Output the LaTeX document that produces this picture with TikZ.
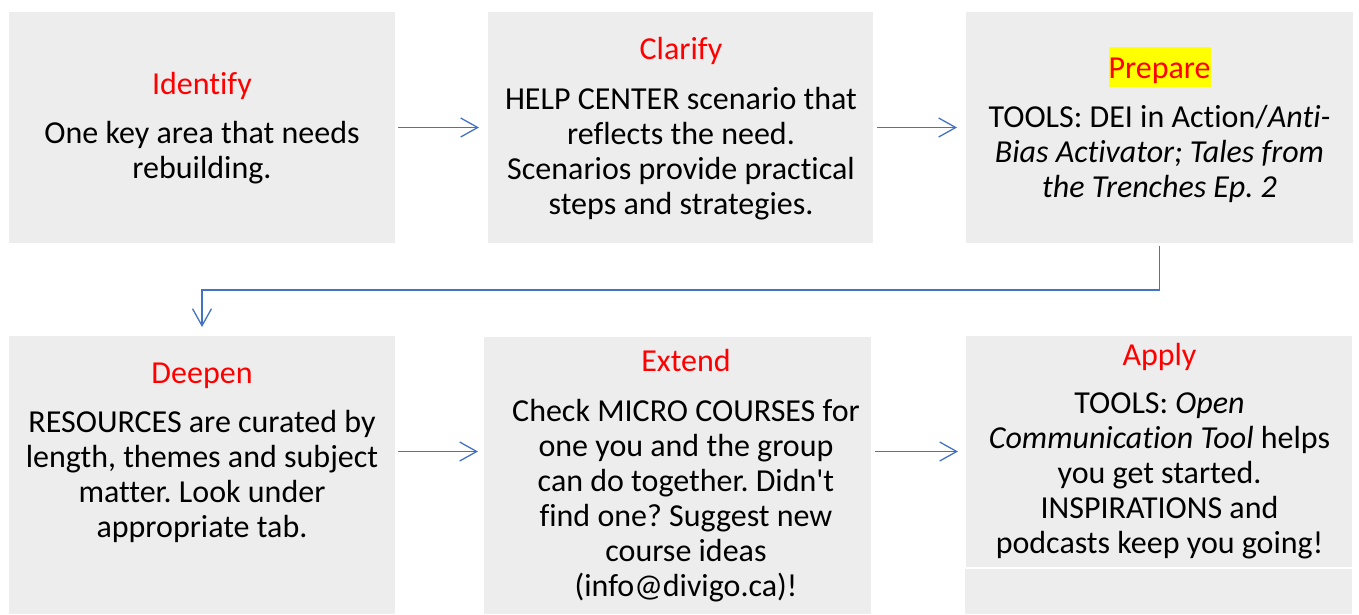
\documentclass[tikz,border=0pt]{standalone}
\usepackage{fontspec}
\setmainfont{Carlito}[Ligatures={NoCommon}]
\frenchspacing
\usetikzlibrary{arrows.meta}
\definecolor{boxgray}{HTML}{EDEDED}
\definecolor{arrblue}{HTML}{4472C4}
\definecolor{titlered}{HTML}{FF0000}
\definecolor{hlyellow}{HTML}{FFFF00}
\begin{document}
\begin{tikzpicture}[x=1pt,y=-1pt,
  box/.style={fill=boxgray, draw=none, inner sep=0pt, outer sep=0pt},
  ttl/.style={text=titlered, font=\fontsize{32}{35}\selectfont, inner sep=0pt, anchor=base},
  bodytxt/.style={font=\fontsize{32}{35}\selectfont, align=center, inner sep=0pt, anchor=base},
  arr/.style={draw=arrblue, line width=1.3pt,
    -{Straight Barb[length=17pt,width=19pt,line width=1.3pt]}}
]
\useasboundingbox (0,0) rectangle (1359,614);
% boxes
\node[box, minimum width=386pt, minimum height=231pt] (b1) at (202,127.5) {};
\node[box, minimum width=385pt, minimum height=231pt] (b2) at (680.5,127.5) {};
\node[box, minimum width=387pt, minimum height=231pt] (b3) at (1159.5,127.5) {};
\node[box, minimum width=386pt, minimum height=278pt] (b4) at (202,475) {};
\node[box, minimum width=387pt, minimum height=277pt] (b5) at (677.5,475.5) {};
\node[box, minimum width=386pt, minimum height=231pt] (b6) at (1159,451.5) {};
\node[box, minimum width=387pt, minimum height=45pt] (b7) at (1158.5,591.5) {};
% texts (body nodes are placed by the baseline of their last line)
\node[ttl] (t1) at (202,94) {Identify};
\node[bodytxt] (x1) at (202,178) {One key area that needs\\rebuilding.};
\node[ttl] (t2) at (681,59) {Clarify};
\node[bodytxt] (x2) at (681,214) {HELP CENTER scenario that\\reflects the need.\\Scenarios provide practical\\steps and strategies.};
\node[ttl, fill=hlyellow, text height=31pt, text depth=9pt] (t3) at (1159.5,78) {Prepare};
\node[bodytxt] (x3) at (1159.5,197) {TOOLS: DEI in Action/\textit{Anti-}\\\textit{Bias Activator; Tales from}\\\textit{the Trenches Ep. 2}};
\node[ttl] (t4) at (202,383) {Deepen};
\node[bodytxt] (x4) at (202,537) {RESOURCES are curated by\\length, themes and subject\\matter. Look under\\appropriate tab.};
\node[ttl] (t5) at (686,371) {Extend};
\node[bodytxt] (x5) at (686,596) {Check MICRO COURSES for\\one you and the group\\can do together. Didn\textquotesingle t\\find one? Suggest new\\course ideas\\(info@divigo.ca)!};
\node[ttl] (t6) at (1159.5,365) {Apply};
\node[bodytxt] (x6) at (1159.5,553) {TOOLS: \textit{Open}\\\textit{Communication Tool} helps\\you get started.\\INSPIRATIONS and\\podcasts keep you going!};
% connectors
\draw[arr, shorten <=3pt, shorten >=9pt] (b1.east) -- (b2.west);
\draw[arr, shorten <=4pt, shorten >=9pt] (b2.east) -- (b3.west);
\draw[arr, shorten <=3pt, shorten >=9pt] (b3.south) -- ++(0,47) -| (b4.north);
\draw[arr, shorten <=3pt, shorten >=6pt] (b4.east |- b6.west) -- (b5.west |- b6.west);
\draw[arr, shorten <=4pt, shorten >=8pt] (b5.east |- b6.west) -- (b6.west);
\end{tikzpicture}
\end{document}
